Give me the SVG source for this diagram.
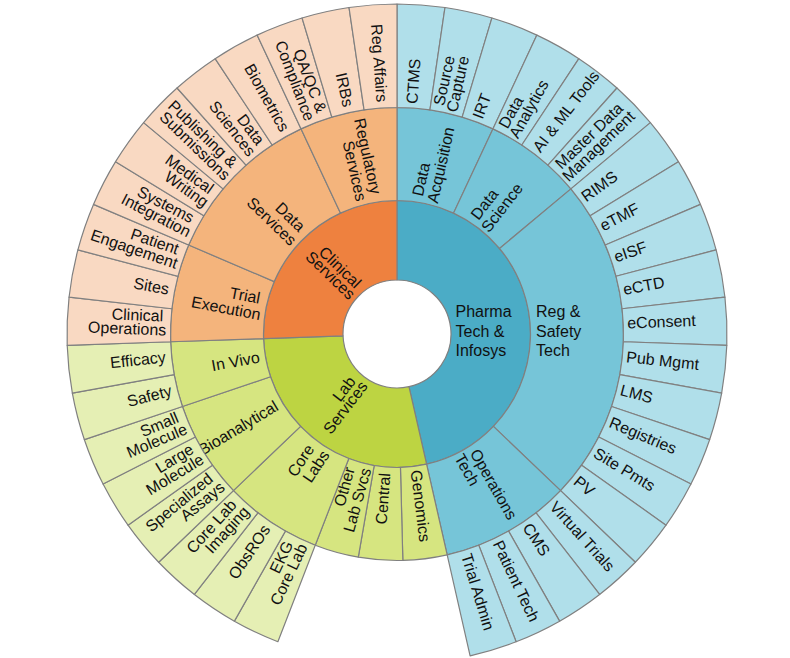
<svg xmlns="http://www.w3.org/2000/svg" xmlns:xlink="http://www.w3.org/1999/xlink" width="790" height="658" viewBox="0 0 790 658">
<style>
.s{stroke:#808080;stroke-width:1.2;stroke-linejoin:round}
.p1{fill:#4bacc6}.p2{fill:#76c5d8}.p3{fill:#b0dfea}
.c1{fill:#ee813f}.c2{fill:#f4b47c}.c3{fill:#f9d9c2}
.l1{fill:#bdd442}.l2{fill:#d6e580}.l3{fill:#e5efb4}
text{font-family:"Liberation Sans",Arial,sans-serif;font-size:16px;fill:#111}
.e{text-anchor:end}
</style>
<defs>
<path id="s3" d="M0,-226.5L0,-330A330,330 0 0 1 47.98,-326.49L32.93,-224.09A226.5,226.5 0 0 0 0,-226.5Z"/>
<path id="w3" d="M0,-133.5L0,-226.5A226.5,226.5 0 0 1 96.01,-205.15L56.59,-120.91A133.5,133.5 0 0 0 0,-133.5Z"/>
<path id="w10" d="M0,-133.5L0,-226.5A226.5,226.5 0 0 1 225.09,-25.25L132.67,-14.88A133.5,133.5 0 0 0 0,-133.5Z"/>
<path id="w4" d="M0,-133.5L0,-226.5A226.5,226.5 0 0 1 124.82,-189.01L73.57,-111.40A133.5,133.5 0 0 0 0,-133.5Z"/>
<path id="wx" d="M0,-133.5L0,-226.5A226.5,226.5 0 0 1 44.46,-222.09L26.20,-130.90A133.5,133.5 0 0 0 0,-133.5Z"/>
<path id="w2" d="M0,-133.5L0,-226.5A226.5,226.5 0 0 1 65.16,-216.92L38.41,-127.86A133.5,133.5 0 0 0 0,-133.5Z"/>
<path id="w5" d="M0,-133.5L0,-226.5A226.5,226.5 0 0 1 150.97,-168.85L88.98,-99.52A133.5,133.5 0 0 0 0,-133.5Z"/>
</defs>
<rect width="790" height="658" fill="#fff"/>
<g transform="translate(397,334)">
<!-- ring 1 -->
<g id="pharma-tech-infosys"><path class="s p1" d="M0,-54L0,-133.5A133.5,133.5 0 0 1 29.58,130.18L11.96,52.66A54,54 0 0 0 0,-54Z"/><text><tspan x="58.5" y="-17">Pharma</tspan><tspan x="58.5" y="2.5">Tech &amp;</tspan><tspan x="58.5" y="22">Infosys</tspan></text></g>
<g id="lab-services"><path class="s l1" transform="rotate(167.2)" d="M0,-54L0,-133.5A133.5,133.5 0 0 1 131.12,25.11L53.04,10.16A54,54 0 0 0 0,-54Z"/><text class="e" transform="rotate(-52.38)"><tspan x="-62.5" y="-3">Lab</tspan><tspan x="-59" y="9.5">Services</tspan></text></g>
<g id="clinical-services"><path class="s c1" transform="rotate(268.04)" d="M0,-54L0,-133.5A133.5,133.5 0 0 1 133.42,4.57L53.97,1.85A54,54 0 0 0 0,-54Z"/><text class="e" transform="rotate(44.02)"><tspan x="-61.5" y="-3">Clinical</tspan><tspan x="-58" y="9.5">Services</tspan></text></g>
<!-- ring 2 -->
<g id="data-acquisition"><use href="#w3" class="s p2"/><text transform="rotate(-77.46)"><tspan x="139.25" y="-4.5">Data</tspan><tspan x="135.75" y="11.5">Acquisition</tspan></text></g>
<g id="data-science"><use href="#w3" class="s p2" transform="rotate(25.08)"/><text transform="rotate(-52.38)"><tspan x="139.25" y="-4.5">Data</tspan><tspan x="135.75" y="11.5">Science</tspan></text></g>
<g id="reg-safety-tech"><use href="#w10" class="s p2" transform="rotate(50.16)"/><text><tspan x="139" y="-17">Reg &amp;</tspan><tspan x="139" y="2.5">Safety</tspan><tspan x="139" y="22">Tech</tspan></text></g>
<g id="operations-tech"><use href="#w4" class="s p2" transform="rotate(133.76)"/><text transform="rotate(60.48)"><tspan x="139.25" y="-4.5">Operations</tspan><tspan x="135.75" y="11.5">Tech</tspan></text></g>
<g id="genomics"><use href="#wx" class="s l2" transform="rotate(167.2)"/><text transform="rotate(82.86)" x="137.5" y="3.5">Genomics</text></g>
<g id="central"><use href="#wx" class="s l2" transform="rotate(178.52)"/><text class="e" transform="rotate(-85.82)" x="-139.5" y="3.5">Central</text></g>
<g id="other-lab-svcs"><use href="#wx" class="s l2" transform="rotate(189.84)"/><text class="e" transform="rotate(-74.5)"><tspan x="-141.25" y="-4.5">Other</tspan><tspan x="-137.75" y="11.5">Lab Svcs</tspan></text></g>
<g id="core-labs"><use href="#w3" class="s l2" transform="rotate(201.16)"/><text class="e" transform="rotate(-56.3)"><tspan x="-141.25" y="-4.5">Core</tspan><tspan x="-137.75" y="11.5">Labs</tspan></text></g>
<g id="bioanalytical"><use href="#w3" class="s l2" transform="rotate(226.24)"/><text class="e" transform="rotate(-31.22)" x="-139.5" y="3.5">Bioanalytical</text></g>
<g id="in-vivo"><use href="#w2" class="s l2" transform="rotate(251.32)"/><text class="e" transform="rotate(-10.32)" x="-139.5" y="3.5">In Vivo</text></g>
<g id="trial-execution"><use href="#w3" class="s c2" transform="rotate(268.04)"/><text class="e" transform="rotate(10.58)"><tspan x="-141.25" y="-4.5">Trial</tspan><tspan x="-137.75" y="11.5">Execution</tspan></text></g>
<g id="data-services"><use href="#w5" class="s c2" transform="rotate(293.12)"/><text class="e" transform="rotate(44.02)"><tspan x="-141.25" y="-4.5">Data</tspan><tspan x="-137.75" y="11.5">Services</tspan></text></g>
<g id="regulatory-services"><use href="#w3" class="s c2" transform="rotate(334.92)"/><text class="e" transform="rotate(77.46)"><tspan x="-141.25" y="-4.5">Regulatory</tspan><tspan x="-137.75" y="11.5">Services</tspan></text></g>
<!-- ring 3 pharma -->
<g id="ctms"><use href="#s3" class="s p3"/><text transform="rotate(-85.82)" x="230.5" y="3.5">CTMS</text></g>
<g id="source-capture"><use href="#s3" class="s p3" transform="rotate(8.36)"/><text transform="rotate(-77.46)"><tspan x="232.25" y="-3.5">Source</tspan><tspan x="228.75" y="10.5">Capture</tspan></text></g>
<g id="irt"><use href="#s3" class="s p3" transform="rotate(16.72)"/><text transform="rotate(-69.1)" x="230.5" y="3.5">IRT</text></g>
<g id="data-analytics"><use href="#s3" class="s p3" transform="rotate(25.08)"/><text transform="rotate(-60.74)"><tspan x="232.25" y="-3.5">Data</tspan><tspan x="228.75" y="10.5">Analytics</tspan></text></g>
<g id="ai-ml-tools"><use href="#s3" class="s p3" transform="rotate(33.44)"/><text transform="rotate(-52.38)" x="230.5" y="3.5">AI &amp; ML Tools</text></g>
<g id="master-data-management"><use href="#s3" class="s p3" transform="rotate(41.8)"/><text transform="rotate(-44.02)"><tspan x="232.25" y="-3.5">Master Data</tspan><tspan x="228.75" y="10.5">Management</tspan></text></g>
<g id="rims"><use href="#s3" class="s p3" transform="rotate(50.16)"/><text transform="rotate(-35.66)" x="230.5" y="3.5">RIMS</text></g>
<g id="etmf"><use href="#s3" class="s p3" transform="rotate(58.52)"/><text transform="rotate(-27.3)" x="230.5" y="3.5">eTMF</text></g>
<g id="eisf"><use href="#s3" class="s p3" transform="rotate(66.88)"/><text transform="rotate(-18.94)" x="230.5" y="3.5">eISF</text></g>
<g id="ectd"><use href="#s3" class="s p3" transform="rotate(75.24)"/><text transform="rotate(-10.58)" x="230.5" y="3.5">eCTD</text></g>
<g id="econsent"><use href="#s3" class="s p3" transform="rotate(83.6)"/><text transform="rotate(-2.22)" x="230.5" y="3.5">eConsent</text></g>
<g id="pub-mgmt"><use href="#s3" class="s p3" transform="rotate(91.96)"/><text transform="rotate(6.14)" x="230.5" y="3.5">Pub Mgmt</text></g>
<g id="lms"><use href="#s3" class="s p3" transform="rotate(100.32)"/><text transform="rotate(14.5)" x="230.5" y="3.5">LMS</text></g>
<g id="registries"><use href="#s3" class="s p3" transform="rotate(108.68)"/><text transform="rotate(22.86)" x="230.5" y="3.5">Registries</text></g>
<g id="site-pmts"><use href="#s3" class="s p3" transform="rotate(117.04)"/><text transform="rotate(31.22)" x="230.5" y="3.5">Site Pmts</text></g>
<g id="pv"><use href="#s3" class="s p3" transform="rotate(125.4)"/><text transform="rotate(39.58)" x="230.5" y="3.5">PV</text></g>
<g id="virtual-trials"><use href="#s3" class="s p3" transform="rotate(133.76)"/><text transform="rotate(47.94)" x="230.5" y="3.5">Virtual Trials</text></g>
<g id="cms"><use href="#s3" class="s p3" transform="rotate(142.12)"/><text transform="rotate(56.3)" x="230.5" y="3.5">CMS</text></g>
<g id="patient-tech"><use href="#s3" class="s p3" transform="rotate(150.48)"/><text transform="rotate(64.66)" x="230.5" y="3.5">Patient Tech</text></g>
<g id="trial-admin"><use href="#s3" class="s p3" transform="rotate(158.84)"/><text transform="rotate(73.02)" x="230.5" y="3.5">Trial Admin</text></g>
<!-- ring 3 lab -->
<g id="ekg-core-lab"><use href="#s3" class="s l3" transform="rotate(201.16)"/><text class="e" transform="rotate(-64.66)"><tspan x="-234.25" y="-3.5">EKG</tspan><tspan x="-230.75" y="10.5">Core Lab</tspan></text></g>
<g id="obsros"><use href="#s3" class="s l3" transform="rotate(209.52)"/><text class="e" transform="rotate(-56.3)" x="-232.5" y="3.5">ObsROs</text></g>
<g id="core-lab-imaging"><use href="#s3" class="s l3" transform="rotate(217.88)"/><text class="e" transform="rotate(-47.94)"><tspan x="-234.25" y="-3.5">Core Lab</tspan><tspan x="-230.75" y="10.5">Imaging</tspan></text></g>
<g id="specialized-assays"><use href="#s3" class="s l3" transform="rotate(226.24)"/><text class="e" transform="rotate(-39.58)"><tspan x="-234.25" y="-3.5">Specialized</tspan><tspan x="-230.75" y="10.5">Assays</tspan></text></g>
<g id="large-molecule"><use href="#s3" class="s l3" transform="rotate(234.6)"/><text class="e" transform="rotate(-31.22)"><tspan x="-234.25" y="-3.5">Large</tspan><tspan x="-230.75" y="10.5">Molecule</tspan></text></g>
<g id="small-molecule"><use href="#s3" class="s l3" transform="rotate(242.96)"/><text class="e" transform="rotate(-22.86)"><tspan x="-234.25" y="-3.5">Small</tspan><tspan x="-230.75" y="10.5">Molecule</tspan></text></g>
<g id="safety"><use href="#s3" class="s l3" transform="rotate(251.32)"/><text class="e" transform="rotate(-14.5)" x="-232.5" y="3.5">Safety</text></g>
<g id="efficacy"><use href="#s3" class="s l3" transform="rotate(259.68)"/><text class="e" transform="rotate(-6.14)" x="-232.5" y="3.5">Efficacy</text></g>
<!-- ring 3 clinical -->
<g id="clinical-operations"><use href="#s3" class="s c3" transform="rotate(268.04)"/><text class="e" transform="rotate(2.22)"><tspan x="-234.25" y="-3.5">Clinical</tspan><tspan x="-230.75" y="10.5">Operations</tspan></text></g>
<g id="sites"><use href="#s3" class="s c3" transform="rotate(276.4)"/><text class="e" transform="rotate(10.58)" x="-232.5" y="3.5">Sites</text></g>
<g id="patient-engagement"><use href="#s3" class="s c3" transform="rotate(284.76)"/><text class="e" transform="rotate(18.94)"><tspan x="-234.25" y="-3.5">Patient</tspan><tspan x="-230.75" y="10.5">Engagement</tspan></text></g>
<g id="systems-integration"><use href="#s3" class="s c3" transform="rotate(293.12)"/><text class="e" transform="rotate(27.3)"><tspan x="-234.25" y="-3.5">Systems</tspan><tspan x="-230.75" y="10.5">Integration</tspan></text></g>
<g id="medical-writing"><use href="#s3" class="s c3" transform="rotate(301.48)"/><text class="e" transform="rotate(35.66)"><tspan x="-234.25" y="-3.5">Medical</tspan><tspan x="-230.75" y="10.5">Writing</tspan></text></g>
<g id="publishing-submissions"><use href="#s3" class="s c3" transform="rotate(309.84)"/><text class="e" transform="rotate(44.02)"><tspan x="-234.25" y="-3.5">Publishing &amp;</tspan><tspan x="-230.75" y="10.5">Submissions</tspan></text></g>
<g id="data-sciences"><use href="#s3" class="s c3" transform="rotate(318.2)"/><text class="e" transform="rotate(52.38)"><tspan x="-234.25" y="-3.5">Data</tspan><tspan x="-230.75" y="10.5">Sciences</tspan></text></g>
<g id="biometrics"><use href="#s3" class="s c3" transform="rotate(326.56)"/><text class="e" transform="rotate(60.74)" x="-232.5" y="3.5">Biometrics</text></g>
<g id="qa-qc-compliance"><use href="#s3" class="s c3" transform="rotate(334.92)"/><text class="e" transform="rotate(69.1)"><tspan x="-234.25" y="-3.5">QA/QC &amp;</tspan><tspan x="-230.75" y="10.5">Compliance</tspan></text></g>
<g id="irbs"><use href="#s3" class="s c3" transform="rotate(343.28)"/><text class="e" transform="rotate(77.46)" x="-232.5" y="3.5">IRBs</text></g>
<g id="reg-affairs"><use href="#s3" class="s c3" transform="rotate(351.64)"/><text class="e" transform="rotate(85.82)" x="-232.5" y="3.5">Reg Affairs</text></g>
</g>
</svg>
